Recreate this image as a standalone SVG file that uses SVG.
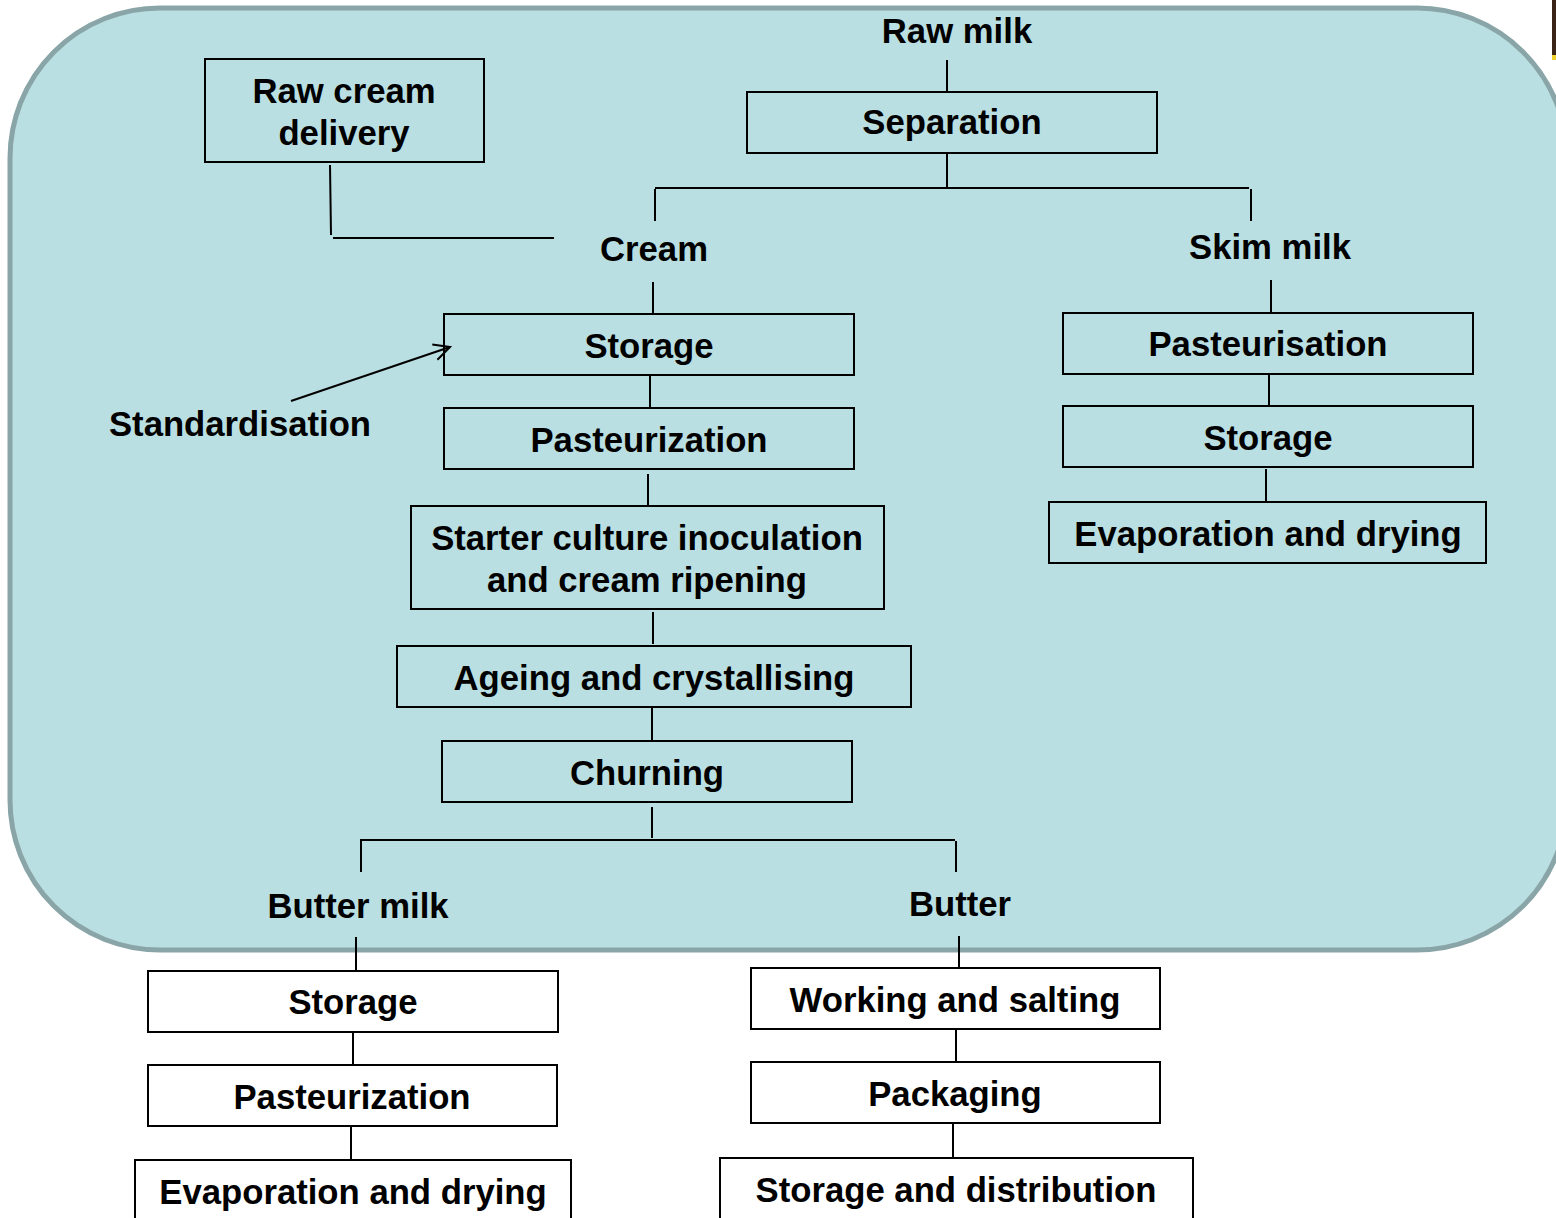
<svg xmlns="http://www.w3.org/2000/svg" width="1556" height="1218" viewBox="0 0 1556 1218">
<style>
.box{fill:none;stroke:#000;stroke-width:2}
.wbox{fill:#fff;stroke:#000;stroke-width:2}
.ln{stroke:#000;stroke-width:2;fill:none}
text{font-family:"Liberation Sans",Arial,sans-serif;font-weight:bold;font-size:34.7px;fill:#000;text-anchor:middle}
</style>
<defs>
<marker id="open" viewBox="0 0 20 20" refX="18" refY="10" markerWidth="20" markerHeight="20" markerUnits="userSpaceOnUse" orient="auto">
<path d="M2,2 L18,10 L2,18" fill="none" stroke="#000" stroke-width="2"/>
</marker>
</defs>
<rect x="0" y="0" width="1556" height="1218" fill="#fff"/>
<rect id="background" x="10" y="8" width="1557" height="942" rx="150" ry="150" fill="#BADFE2" stroke="#89A5A7" stroke-width="5"/>
<rect x="1552" y="0" width="4" height="55" fill="#3a2418"/>
<rect x="1552" y="55" width="4" height="5" fill="#f2d22e"/>

<g id="connectors">
<line class="ln" x1="947" y1="60" x2="947" y2="92"/>
<line class="ln" x1="947" y1="153" x2="947" y2="187"/>
<line class="ln" x1="655" y1="188" x2="1249" y2="188"/>
<line class="ln" x1="655" y1="189" x2="655" y2="221"/>
<line class="ln" x1="1251" y1="189" x2="1251" y2="221"/>
<line class="ln" x1="330" y1="165" x2="331" y2="235"/>
<line class="ln" x1="333" y1="238" x2="554" y2="238"/>
<line class="ln" x1="653" y1="282" x2="653" y2="314"/>
<line class="ln" x1="650" y1="375" x2="650" y2="408"/>
<line class="ln" x1="648" y1="474" x2="648" y2="506"/>
<line class="ln" x1="653" y1="612" x2="653" y2="644"/>
<line class="ln" x1="652" y1="708" x2="652" y2="741"/>
<line class="ln" x1="652" y1="807" x2="652" y2="838"/>
<line class="ln" x1="360" y1="840" x2="955" y2="840"/>
<line class="ln" x1="361" y1="841" x2="361" y2="872"/>
<line class="ln" x1="956" y1="841" x2="956" y2="872"/>
<line class="ln" x1="356" y1="937" x2="356" y2="971"/>
<line class="ln" x1="353" y1="1033" x2="353" y2="1065"/>
<line class="ln" x1="351" y1="1127" x2="351" y2="1160"/>
<line class="ln" x1="959" y1="936" x2="959" y2="968"/>
<line class="ln" x1="956" y1="1030" x2="956" y2="1062"/>
<line class="ln" x1="953" y1="1124" x2="953" y2="1158"/>
<line class="ln" x1="1271" y1="280" x2="1271" y2="313"/>
<line class="ln" x1="1269" y1="375" x2="1269" y2="406"/>
<line class="ln" x1="1266" y1="469" x2="1266" y2="502"/>
<line class="ln" x1="291" y1="401" x2="450" y2="347" marker-end="url(#open)"/>
</g>

<g id="raw-milk"><text x="957" y="43">Raw milk</text></g>
<g id="raw-cream-delivery"><rect class="box" x="205" y="59" width="279" height="103"/><text x="344" y="103">Raw cream</text><text x="344" y="145">delivery</text></g>
<g id="separation"><rect class="box" x="747" y="92" width="410" height="61"/><text x="952" y="134">Separation</text></g>
<g id="cream"><text x="654" y="261">Cream</text></g>
<g id="skim-milk"><text x="1270" y="259">Skim milk</text></g>
<g id="standardisation"><text x="240" y="436">Standardisation</text></g>
<g id="cream-storage"><rect class="box" x="444" y="314" width="410" height="61"/><text x="649" y="358">Storage</text></g>
<g id="cream-pasteurization"><rect class="box" x="444" y="408" width="410" height="61"/><text x="649" y="452">Pasteurization</text></g>
<g id="starter-culture"><rect class="box" x="411" y="506" width="473" height="103"/><text x="647" y="550">Starter culture inoculation</text><text x="647" y="592">and cream ripening</text></g>
<g id="ageing"><rect class="box" x="397" y="646" width="514" height="61"/><text x="654" y="690">Ageing and crystallising</text></g>
<g id="churning"><rect class="box" x="442" y="741" width="410" height="61"/><text x="647" y="785">Churning</text></g>
<g id="skim-pasteurisation"><rect class="box" x="1063" y="313" width="410" height="61"/><text x="1268" y="356">Pasteurisation</text></g>
<g id="skim-storage"><rect class="box" x="1063" y="406" width="410" height="61"/><text x="1268" y="450">Storage</text></g>
<g id="skim-evaporation"><rect class="box" x="1049" y="502" width="437" height="61"/><text x="1268" y="546">Evaporation and drying</text></g>
<g id="butter-milk"><text x="358" y="918">Butter milk</text></g>
<g id="butter"><text x="960" y="916">Butter</text></g>
<g id="bm-storage"><rect class="wbox" x="148" y="971" width="410" height="61"/><text x="353" y="1014">Storage</text></g>
<g id="bm-pasteurization"><rect class="wbox" x="148" y="1065" width="409" height="61"/><text x="352" y="1109">Pasteurization</text></g>
<g id="bm-evaporation"><rect class="wbox" x="135" y="1160" width="436" height="70"/><text x="353" y="1204">Evaporation and drying</text></g>
<g id="working-salting"><rect class="wbox" x="751" y="968" width="409" height="61"/><text x="955" y="1012">Working and salting</text></g>
<g id="packaging"><rect class="wbox" x="751" y="1062" width="409" height="61"/><text x="955" y="1106">Packaging</text></g>
<g id="storage-distribution"><rect class="wbox" x="720" y="1158" width="473" height="70"/><text x="956" y="1202">Storage and distribution</text></g>
</svg>
